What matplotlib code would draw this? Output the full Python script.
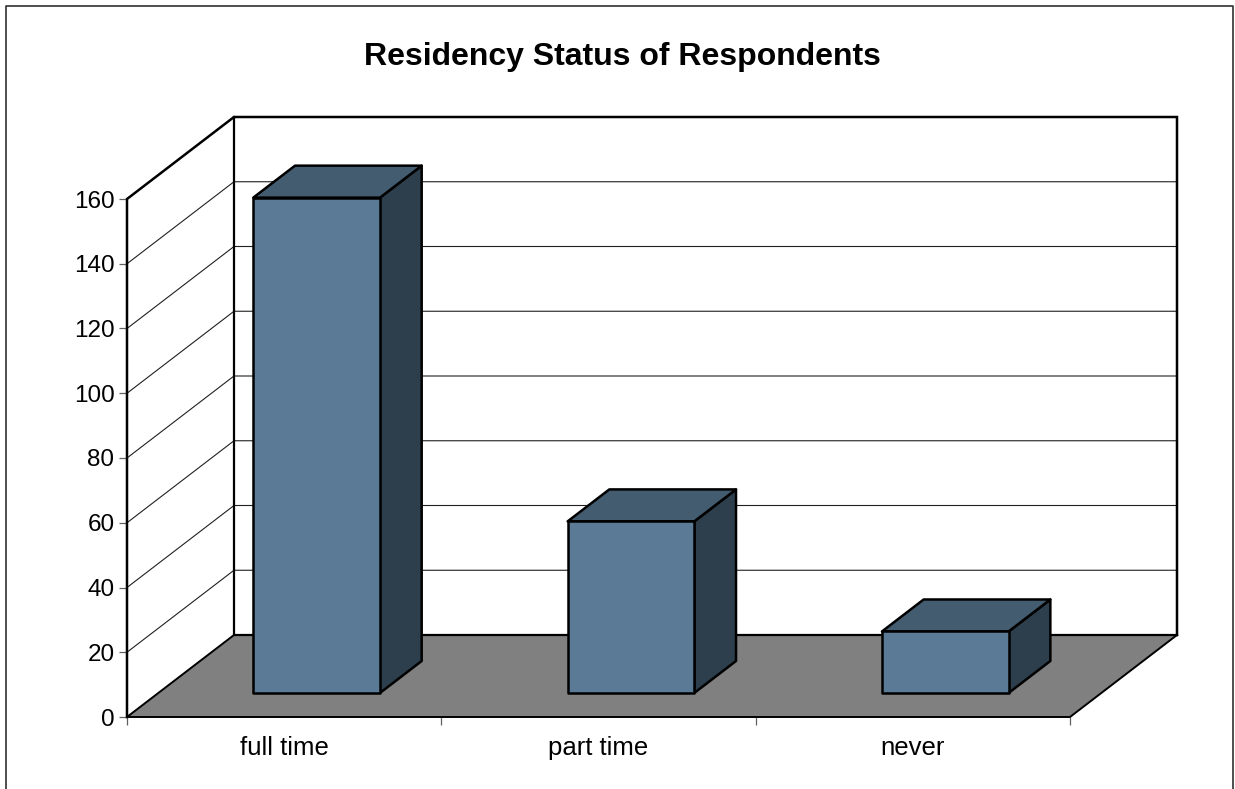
import matplotlib
matplotlib.use('Agg')
import matplotlib.pyplot as plt
from matplotlib.patches import Polygon

W, H = 1235, 789

categories = ['full time', 'part time', 'never']
values = [153, 53, 19]
y_ticks = [0, 20, 40, 60, 80, 100, 120, 140, 160]
title = 'Residency Status of Respondents'

FRONT = '#5a7a96'
TOP = '#435c70'
SIDE = '#2d3f4c'
FLOOR = '#808080'

# oblique offset of the back wall, in data units
DEPTH_X = 107 / (943 / 3)
DEPTH_Y = 82 / (518 / 160)
# where the bars sit in the depth and along each category
BAR_FRONT = 0.293
BAR_BACK = 0.683
BAR_START = 0.302
BAR_WIDTH = 0.403

plt.rcParams['font.family'] = ['Liberation Sans', 'DejaVu Sans']


def px_axes(fig, left, right, top, bottom):
    return fig.add_axes([left / W, 1 - bottom / H, (right - left) / W, (bottom - top) / H])


def proj(x, y, d):
    # shift a data point towards the back wall by depth d (0 to 1)
    return (x + d * DEPTH_X, y + d * DEPTH_Y)


def face(ax, pts, color, z, lw=1.8):
    ax.add_patch(Polygon(pts, closed=True, facecolor=color, edgecolor='black',
                         linewidth=lw, joinstyle='round', clip_on=False, zorder=z))


def draw_bar(ax, i, val):
    x0 = i + BAR_START
    x1 = x0 + BAR_WIDTH
    f, b = BAR_FRONT, BAR_BACK
    face(ax, [proj(x1, 0, f), proj(x1, 0, b), proj(x1, val, b), proj(x1, val, f)], SIDE, 5)
    face(ax, [proj(x0, val, f), proj(x1, val, f), proj(x1, val, b), proj(x0, val, b)], TOP, 5)
    face(ax, [proj(x0, 0, f), proj(x1, 0, f), proj(x1, val, f), proj(x0, val, f)], FRONT, 6)


fig = plt.figure(figsize=(W / 100, H / 100), dpi=100, facecolor='white')

# outer chart frame, open at the bottom edge of the image
frame = fig.add_axes([0, 0, 1, 1])
frame.set_xlim(0, W)
frame.set_ylim(H, 0)
frame.axis('off')
frame.plot([6, 6, 1233, 1233], [H + 5, 6, 6, H + 5], color='#303030', lw=1.2, clip_on=False)

ax = px_axes(fig, 127, 1070, 199, 717)
ax.patch.set_visible(False)
n = len(categories)
ymax = y_ticks[-1]
ax.set_xlim(0, n)
ax.set_ylim(0, ymax)
for s in ax.spines.values():
    s.set_visible(False)

# floor
ax.add_patch(Polygon([proj(0, 0, 0), proj(n, 0, 0), proj(n, 0, 1), proj(0, 0, 1)],
                     closed=True, facecolor=FLOOR, edgecolor='none', clip_on=False, zorder=1))

# gridlines on the side wall and the back wall
for t in y_ticks[1:-1]:
    xs, ys = zip(proj(0, t, 0), proj(0, t, 1), proj(n, t, 1))
    ax.plot(xs, ys, color='#202020', lw=0.8, clip_on=False, zorder=2)

# walls and floor outline
xs, ys = zip(proj(0, 0, 0), proj(0, ymax, 0), proj(0, ymax, 1), proj(n, ymax, 1), proj(n, 0, 1))
ax.plot(xs, ys, color='black', lw=1.8, clip_on=False, zorder=3, solid_joinstyle='miter')
xs, ys = zip(proj(0, ymax, 1), proj(0, 0, 1), proj(n, 0, 1))
ax.plot(xs, ys, color='black', lw=1.6, clip_on=False, zorder=3)
xs, ys = zip(proj(0, 0, 1), proj(0, 0, 0), proj(n, 0, 0), proj(n, 0, 1))
ax.plot(xs, ys, color='black', lw=1.4, clip_on=False, zorder=3)

for i, v in enumerate(values):
    draw_bar(ax, i, v)

ax.set_yticks(y_ticks)
ax.set_yticklabels([str(t) for t in y_ticks], fontsize=17.5)
ax.tick_params(axis='y', length=6, width=0.9, color='#606060', pad=3)
ax.set_xticks(range(n + 1))
ax.set_xticklabels([''] * (n + 1))
ax.tick_params(axis='x', length=6, width=0.9, color='#606060')
for i, c in enumerate(categories):
    ax.annotate(c, (i + 0.5, 0), xytext=(0, -31), textcoords='offset pixels', ha='center',
                va='center', fontsize=18.5, color='black', annotation_clip=False)

frame.text(622, 57, title, ha='center', va='center', fontsize=23, fontweight='bold')

fig.savefig('out.png', dpi=100)
